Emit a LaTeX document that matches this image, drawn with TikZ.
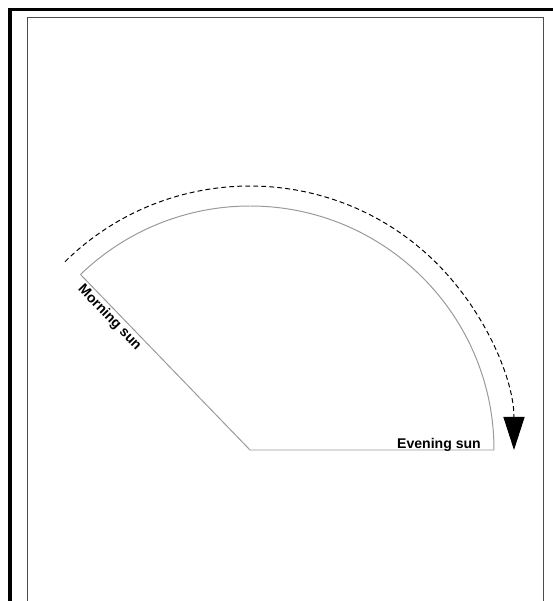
\documentclass[tikz,border=0pt]{standalone}
\usepackage{fontspec}
\setmainfont{Liberation Sans}
\usetikzlibrary{arrows.meta}

\begin{document}
\begin{tikzpicture}[
  sunlabel/.style={font=\bfseries\fontsize{10}{12}\selectfont, inner sep=1.5pt},
  sector/.style={gray!80, line width=0.7pt},
  path of sun/.style={dash pattern=on 3.5pt off 2.2pt, line width=0.7pt,
    -{Triangle[length=0.83cm,width=0.53cm]}}]
\useasboundingbox (-6.25,-3.775) rectangle (7.575,11.25);
\clip (-6.25,-3.775) rectangle (7.575,11.25);

% frames
\draw[line width=2.2pt] (-6,-5) -- (-6,11.0125) -- (8,11.0125);
\draw[gray!60!black, line width=0.6pt] (-5.575,-5) -- (-5.575,10.825) -- (7.325,10.825) -- (7.325,-5);

\coordinate (centre) at (0,0);
\coordinate (morning) at (134:6.1);
\coordinate (evening) at (0:6.1);

\draw[sector] (morning) -- node[sunlabel, sloped, below, pos=0.21, black] (morninglabel) {Morning sun} (centre) -- (evening)
  arc[start angle=0, end angle=134, radius=6.1];
\node[sunlabel, anchor=base east, xshift=-0.27cm, yshift=0.05cm] (eveninglabel) at (evening) {Evening sun};

\draw[path of sun] (134.5:6.6) arc[start angle=134.5, end angle=0, radius=6.6];
\end{tikzpicture}
\end{document}
